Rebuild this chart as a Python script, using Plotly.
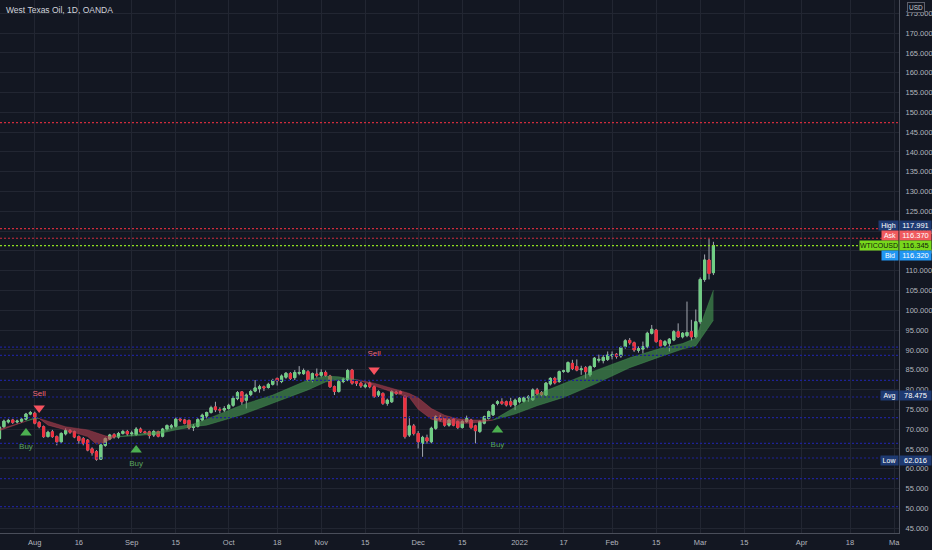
import plotly.graph_objects as go

# ---------------- data ----------------
title_text = "West Texas Oil, 1D, OANDA"

opens = [67.6, 70.6, 71.8, 72.3, 71.8, 72.0, 72.5, 73.8, 74.0, 71.7,
         70.6, 68.1, 69.3, 68.1, 66.8, 68.8, 69.6, 69.3, 68.1, 67.6,
         67.2, 65.0, 64.3, 62.4, 65.9, 67.5, 68.6, 68.0, 68.9, 69.4,
         68.8, 68.6, 70.0, 69.3, 69.3, 68.5, 69.4, 68.2, 70.0, 70.5,
         70.7, 72.5, 72.3, 72.2, 70.4, 70.7, 72.3, 73.3, 74.2, 75.6,
         74.9, 74.8, 75.2, 76.0, 77.7, 79.4, 77.3, 78.7, 79.6, 80.2,
         80.7, 80.5, 81.3, 82.8, 82.0, 83.1, 84.0, 83.0, 84.1, 84.0,
         84.5, 82.5, 83.9, 83.6, 84.3, 83.4, 80.7, 79.5, 82.0, 82.4,
         84.9, 82.0, 81.6, 80.7, 81.6, 80.7, 78.6, 79.0, 76.5, 76.9,
         79.3, 79.4, 78.2, 68.5, 70.8, 68.9, 66.4, 67.8, 66.8, 70.2,
         72.8, 72.7, 71.0, 72.5, 71.9, 70.4, 71.9, 72.3, 70.8, 69.4,
         71.5, 72.7, 73.6, 76.5, 76.9, 76.9, 76.9, 76.1, 76.9, 77.0,
         77.9, 77.4, 79.9, 79.2, 78.6, 81.4, 82.8, 82.0, 84.6, 84.5,
         86.6, 85.8, 85.0, 85.5, 83.7, 85.8, 87.4, 87.3, 87.6, 88.5,
         88.9, 88.5, 90.8, 92.4, 91.8, 89.9, 90.2, 90.8, 94.2, 95.0,
         92.3, 91.2, 91.7, 92.5, 94.6, 93.3, 93.6, 94.6, 93.3, 97.1,
         107.8, 112.7, 109.5]

highs = [70.9, 72.4, 72.6, 72.6, 72.4, 72.9, 74.1, 74.6, 74.4, 72.0,
         70.9, 69.6, 69.8, 68.4, 69.2, 70.2, 70.0, 69.6, 68.4, 68.0,
         67.5, 65.4, 64.7, 66.2, 67.9, 68.8, 69.0, 69.3, 69.8, 69.8,
         69.6, 70.5, 70.4, 69.6, 69.6, 69.8, 69.6, 70.3, 71.2, 71.3,
         72.9, 73.0, 72.6, 72.4, 71.3, 72.8, 73.9, 74.4, 75.9, 76.9,
         75.5, 75.8, 76.4, 78.4, 79.6, 79.6, 79.0, 79.9, 82.4, 81.2,
         81.0, 81.7, 82.7, 83.0, 83.8, 84.4, 84.4, 84.9, 85.9, 85.3,
         84.9, 84.3, 85.3, 85.1, 84.8, 83.7, 81.0, 82.4, 83.0, 85.2,
         85.2, 82.4, 82.0, 81.6, 82.0, 81.0, 79.8, 79.3, 77.7, 79.8,
         79.7, 79.7, 78.5, 73.2, 71.3, 69.5, 68.3, 68.6, 70.6, 73.5,
         73.6, 73.0, 72.7, 72.8, 72.2, 72.3, 73.4, 72.6, 71.1, 72.2,
         73.4, 74.7, 76.4, 77.3, 77.8, 77.2, 77.9, 77.7, 78.1, 78.2,
         78.6, 80.3, 80.4, 79.6, 81.9, 83.1, 83.2, 84.8, 85.0, 87.1,
         87.5, 87.6, 86.0, 85.9, 86.1, 88.2, 88.8, 88.7, 89.6, 89.6,
         89.2, 91.0, 92.7, 93.0, 92.1, 90.9, 92.1, 94.6, 96.3, 95.3,
         92.6, 92.5, 93.0, 95.0, 96.7, 94.5, 102.2, 97.6, 100.2, 108.3,
         114.1, 118.0, 117.3]

lows = [67.2, 70.3, 71.4, 71.3, 71.4, 71.6, 72.2, 73.5, 71.2, 70.2,
        67.8, 67.9, 67.8, 65.9, 66.4, 68.4, 68.8, 67.7, 66.3, 65.9,
        64.4, 63.3, 62.0, 62.2, 65.5, 67.2, 67.6, 67.6, 68.6, 68.3,
        68.2, 68.3, 69.0, 68.8, 67.6, 68.0, 67.9, 67.9, 69.6, 70.0,
        70.4, 71.8, 71.2, 69.9, 69.5, 70.4, 72.0, 72.7, 73.9, 74.3,
        74.0, 74.3, 74.9, 75.6, 77.3, 76.1, 75.2, 78.3, 79.3, 79.2,
        79.6, 80.2, 81.0, 81.0, 81.6, 82.7, 82.4, 82.4, 83.6, 83.7,
        82.0, 81.8, 83.0, 83.1, 83.2, 80.4, 78.6, 79.2, 81.6, 82.1,
        81.2, 80.9, 80.4, 80.3, 80.3, 77.9, 78.1, 76.1, 75.9, 76.6,
        78.6, 78.9, 67.6, 68.0, 68.4, 65.1, 63.0, 66.3, 66.4, 69.8,
        71.9, 70.6, 70.6, 70.7, 70.0, 70.1, 71.6, 70.0, 66.4, 69.0,
        71.2, 72.4, 73.3, 76.0, 76.1, 75.7, 75.6, 74.8, 76.5, 76.7,
        76.9, 77.1, 78.6, 78.0, 78.3, 81.0, 81.3, 81.7, 84.2, 84.2,
        84.9, 84.6, 83.7, 82.8, 83.2, 85.5, 86.8, 86.6, 87.2, 87.6,
        87.8, 88.0, 90.3, 91.3, 89.5, 89.3, 89.1, 90.4, 93.9, 91.8,
        90.6, 90.8, 89.6, 92.2, 93.0, 92.9, 93.2, 92.4, 92.9, 96.5,
        107.2, 107.8, 108.9]

closes = [70.5, 72.0, 72.2, 71.7, 72.0, 72.5, 73.8, 74.2, 71.5, 70.6,
          68.1, 69.2, 68.1, 66.8, 68.9, 69.6, 69.2, 68.0, 67.1, 66.4,
          64.7, 64.0, 62.4, 66.0, 67.6, 68.5, 68.0, 68.9, 69.4, 68.8,
          69.0, 70.0, 69.3, 69.1, 68.4, 69.4, 68.2, 70.0, 70.9, 70.8,
          72.5, 72.3, 71.5, 70.3, 70.6, 72.4, 73.5, 74.2, 75.4, 74.9,
          74.8, 75.2, 76.0, 77.8, 79.2, 76.9, 78.6, 79.5, 80.4, 80.7,
          80.4, 81.3, 82.3, 82.2, 83.4, 84.1, 82.8, 84.3, 84.3, 84.8,
          82.4, 84.0, 83.6, 84.3, 83.6, 80.7, 79.5, 82.0, 82.6, 84.8,
          81.6, 81.6, 80.9, 81.1, 80.7, 78.2, 79.4, 76.5, 77.3, 79.5,
          79.0, 79.1, 68.1, 70.8, 68.9, 66.8, 67.9, 67.0, 70.2, 73.1,
          72.4, 71.0, 72.3, 71.0, 70.4, 71.9, 72.7, 70.4, 69.6, 71.9,
          73.1, 74.4, 76.1, 76.9, 76.5, 76.1, 76.1, 77.3, 77.8, 77.9,
          78.1, 79.9, 78.9, 78.7, 81.6, 82.8, 81.7, 84.5, 84.7, 86.8,
          85.3, 84.9, 85.2, 84.5, 85.8, 87.9, 87.6, 88.1, 88.7, 88.8,
          88.4, 90.6, 92.3, 91.8, 90.0, 90.3, 90.8, 94.2, 95.2, 92.1,
          91.0, 92.1, 92.7, 94.6, 93.3, 94.2, 94.4, 93.3, 97.1, 107.8,
          112.7, 109.3, 116.345]

# moving-average ribbon edges (fast / slow), read at selected bars
ribbon_idx = [0, 3, 6, 8, 9, 11, 15, 20, 22, 24, 25, 26, 31, 36, 40, 44,
              47, 55, 62, 70, 74, 77, 79, 81, 85, 90, 93, 95, 98, 101, 104,
              107, 110, 112, 117, 122, 128, 135, 143, 150, 155, 158, 162]
ribbon_fast = [69.6, 70.8, 72.0, 72.9, 72.7, 71.0, 69.8, 68.1, 66.2, 66.6,
               67.4, 68.0, 68.7, 69.3, 70.5, 71.3, 72.5, 76.1, 78.6, 82.4,
               83.4, 83.2, 82.8, 82.5, 80.9, 79.0, 78.0, 75.0, 72.5, 71.6,
               71.4, 71.5, 71.9, 72.3, 75.6, 78.8, 81.5, 84.7, 88.0, 90.4,
               91.6, 93.0, 105.1]
ribbon_slow = [70.0, 71.0, 72.0, 72.6, 72.7, 72.0, 70.6, 69.8, 69.0, 68.3,
               68.1, 68.0, 68.3, 68.8, 69.8, 70.6, 71.0, 73.6, 76.5, 79.9,
               81.9, 82.5, 82.6, 82.5, 81.6, 80.0, 79.0, 77.9, 75.2, 73.5,
               72.6, 72.3, 72.3, 72.3, 73.8, 75.9, 78.0, 81.3, 85.5, 88.3,
               90.2, 91.0, 97.5]

# Buy / Sell signals
signal_idx = [6, 9, 31, 85, 113]
signal_kind = ["Buy", "Sell", "Buy", "Sell", "Buy"]
signal_mark_price = [69.0, 75.3, 64.7, 84.9, 69.8]
signal_text_price = [65.5, 78.9, 61.2, 89.0, 66.0]

# horizontal levels
blue_levels = [90.7, 88.6, 82.3, 78.1, 72.9, 66.4, 62.7, 57.5, 50.4]
red_levels = [147.4, 120.6, 118.2]
last_price = 116.345

# x-axis ticks (bar index -> label)
tick_idx = [8, 18, 30, 40, 52, 63, 73, 83, 95, 105, 118, 128, 139, 149,
            159, 169, 182, 193, 203]
tick_text = ["Aug", "16", "Sep", "15", "Oct", "18", "Nov", "15", "Dec", "15",
             "2022", "17", "Feb", "15", "Mar", "15", "Apr", "18", "Ma"]

# price-scale labels: name, value text, displayed at price, bg, fg, name width
scale_labels = [
    ("High", "117.991", 121.5, "#1e3a72", "#ffffff", 19),
    ("Ask", "116.370", 119.0, "#f05a5e", "#ffffff", 16),
    ("WTICOUSD", "116.345", 116.4, "#78d81c", "#10230a", 38),
    ("Bid", "116.320", 113.8, "#2196f3", "#ffffff", 16),
    ("Avg", "78.475", 78.475, "#1e3a72", "#ffffff", 17),
    ("Low", "62.016", 62.016, "#1e3a72", "#ffffff", 17),
]

# ---------------- styling ----------------
BG = "#131722"
GRID = "#222632"
AXIS = "#4a4e5a"
TXT = "#b2b5be"
FONT = "Liberation Sans, Arial, sans-serif"
GREEN = "#70cf84"
RED = "#f0303f"
WICK = "#a3a7b0"

x = list(range(len(closes)))

fig = go.Figure()

# ribbon: split into segments at crossings
segments = []
cur = [0]
for k in range(1, len(ribbon_idx)):
    cur.append(k)
    if abs(ribbon_fast[k] - ribbon_slow[k]) < 1e-9 and k != len(ribbon_idx) - 1:
        segments.append(cur)
        cur = [k]
segments.append(cur)

for seg in segments:
    diffs = [ribbon_fast[k] - ribbon_slow[k] for k in seg]
    up = sum(diffs) > 0
    fill = "rgba(76,165,88,0.56)" if up else "rgba(196,70,86,0.55)"
    xs = [ribbon_idx[k] for k in seg]
    fig.add_trace(go.Scatter(x=xs, y=[ribbon_slow[k] for k in seg], mode="lines",
                             line=dict(width=0.6, color=fill), hoverinfo="skip"))
    fig.add_trace(go.Scatter(x=xs, y=[ribbon_fast[k] for k in seg], mode="lines",
                             line=dict(width=0.6, color=fill), fill="tonexty",
                             fillcolor=fill, hoverinfo="skip"))

# wicks
fig.add_trace(go.Candlestick(
    x=x, open=opens, high=highs, low=lows, close=closes,
    increasing=dict(line=dict(color=WICK, width=1), fillcolor=WICK),
    decreasing=dict(line=dict(color=WICK, width=1), fillcolor=WICK),
    whiskerwidth=0, hoverinfo="skip"))

# bodies
body_hi = [max(o, c) for o, c in zip(opens, closes)]
body_lo = [min(o, c) for o, c in zip(opens, closes)]
fig.add_trace(go.Candlestick(
    x=x, open=opens, high=body_hi, low=body_lo, close=closes,
    increasing=dict(line=dict(color=GREEN, width=1), fillcolor=GREEN),
    decreasing=dict(line=dict(color=RED, width=1), fillcolor=RED),
    whiskerwidth=0, hoverinfo="skip"))

# signals
for kind, sym, col, tcol in [("Buy", "triangle-up", "#4caf50", "#5aa45e"),
                             ("Sell", "triangle-down", "#f7525f", "#f06877")]:
    xi = [i for i, k in zip(signal_idx, signal_kind) if k == kind]
    ym = [p for p, k in zip(signal_mark_price, signal_kind) if k == kind]
    yt = [p for p, k in zip(signal_text_price, signal_kind) if k == kind]
    fig.add_trace(go.Scatter(x=xi, y=ym, mode="markers",
                             marker=dict(symbol=sym, size=10, color=col, line=dict(width=0)),
                             hoverinfo="skip"))
    fig.add_trace(go.Scatter(x=xi, y=yt, mode="text", text=[kind] * len(xi),
                             textfont=dict(size=8, color=tcol, family=FONT),
                             hoverinfo="skip"))

shapes = []
for lv in blue_levels:
    shapes.append(dict(type="line", xref="paper", x0=0, x1=1, yref="y", y0=lv, y1=lv,
                       line=dict(color="#1e2296", width=1.2, dash="2px,2px"), layer="above"))
for lv in red_levels:
    shapes.append(dict(type="line", xref="paper", x0=0, x1=1, yref="y", y0=lv, y1=lv,
                       line=dict(color="#d02c3c", width=1.2, dash="2px,2px"), layer="above"))
shapes.append(dict(type="line", xref="paper", x0=0, x1=1, yref="y", y0=last_price, y1=last_price,
                   line=dict(color="#8fe020", width=1.2, dash="2px,2px"), layer="above"))

annotations = [
    dict(text=title_text, xref="paper", yref="paper", x=4 / 899, y=1 - 10 / 533,
         xanchor="left", yanchor="middle", showarrow=False,
         font=dict(size=8.5, color="#d1d4dc", family=FONT)),
    dict(text="USD", xref="paper", yref="paper", x=915.5 / 899, y=1 - 8 / 533,
         xanchor="center", yanchor="middle", showarrow=False, bgcolor=BG,
         bordercolor="#5d606b", borderwidth=1, borderpad=1,
         font=dict(size=6.5, color="#c8cad0", family=FONT)),
]
for name, val, yp, bg, fg, w in scale_labels:
    annotations.append(dict(text=val, xref="paper", yref="y", x=1, y=yp,
                            xanchor="left", yanchor="middle", showarrow=False,
                            width=31, height=9, bgcolor=bg, borderpad=0,
                            font=dict(size=7.5, color=fg, family=FONT)))
    annotations.append(dict(text=name, xref="paper", yref="y", x=1, y=yp,
                            xanchor="right", yanchor="middle", showarrow=False,
                            width=w, height=9, bgcolor=bg, borderpad=0,
                            font=dict(size=7, color=fg, family=FONT)))

fig.update_layout(
    template="none",
    width=932, height=550, autosize=False,
    margin=dict(l=0, r=33, t=0, b=17, pad=0),
    paper_bgcolor=BG, plot_bgcolor=BG,
    showlegend=False, boxgap=0.3, boxmode="overlay",
    shapes=shapes, annotations=annotations,
    xaxis=dict(range=[0.11, 204.11], tickmode="array", tickvals=tick_idx, ticktext=tick_text,
               showgrid=True, gridcolor=GRID, gridwidth=1, zeroline=False,
               showline=True, linecolor=AXIS, linewidth=1, ticks="",
               ticklabelstandoff=2,
               tickfont=dict(size=7.5, color=TXT, family=FONT), automargin=False,
               rangeslider=dict(visible=False), fixedrange=True),
    yaxis=dict(side="right", range=[43.76, 178.36], tickmode="linear", tick0=0, dtick=5,
               tickformat=".3f", showgrid=True, gridcolor=GRID, gridwidth=1, zeroline=False,
               showline=True, linecolor=AXIS, linewidth=1, ticks="",
               ticklabelstandoff=4, automargin=False,
               tickfont=dict(size=7.5, color=TXT, family=FONT), fixedrange=True),
)

fig.write_html("out.html",
               config={"displayModeBar": False, "staticPlot": True},
               post_script="document.body.style.margin='0px';"
                           "document.body.style.background='#131722';")
